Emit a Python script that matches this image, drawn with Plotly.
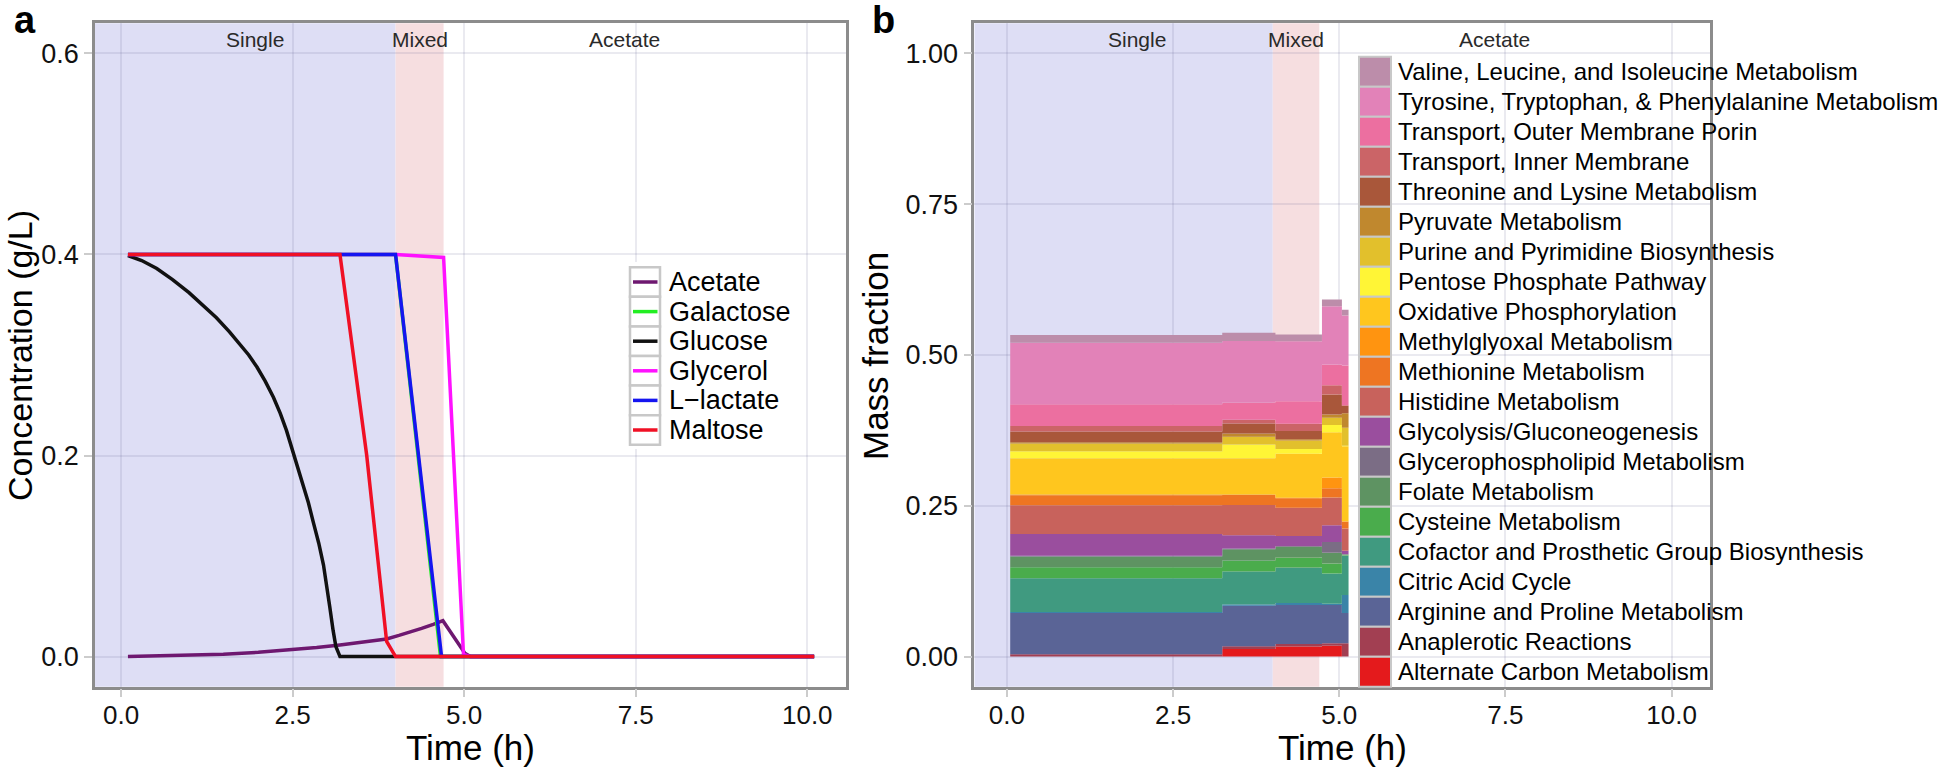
import plotly.graph_objects as go

W, H = 1946, 771
FONT = "Liberation Sans, Arial, Helvetica, sans-serif"

# ---------------- Panel a: substrate concentrations ----------------
conc_names = ["Acetate", "Galactose", "Glucose", "Glycerol", "L\u2212lactate", "Maltose"]
conc_colors = ["#6E1870", "#22EE22", "#111111", "#FF11FF", "#1515F0", "#F01025"]

acetate_t = [0.1, 0.8, 1.49, 2.0, 2.46, 2.85, 3.19, 3.55, 3.87, 4.05, 4.21, 4.38, 4.55, 4.69,
             5.01, 5.09, 10.1]
acetate_c = [0.0, 0.001, 0.0023, 0.0042, 0.0066, 0.009, 0.0116, 0.0145, 0.0175, 0.021, 0.024,
             0.028, 0.032, 0.0357, 0.0033, 0.0, 0.0]

galactose_t = [0.1, 4.0, 4.655, 10.1]
galactose_c = [0.4, 0.4, 0.0, 0.0]

glucose_t = [0.1, 0.3, 0.52, 0.75, 0.99, 1.2, 1.39, 1.58, 1.73, 1.86, 1.98, 2.1, 2.22, 2.32,
             2.41, 2.51, 2.59, 2.66, 2.73, 2.80, 2.88, 2.95, 3.0, 3.04, 3.09, 3.13, 3.19, 10.1]
glucose_c = [0.399, 0.394, 0.386, 0.375, 0.362, 0.349, 0.337, 0.323, 0.311, 0.300, 0.288, 0.274,
             0.258, 0.242, 0.225, 0.203, 0.186, 0.170, 0.153, 0.134, 0.113, 0.091, 0.071, 0.050,
             0.026, 0.010, 0.0, 0.0]

glycerol_t = [0.1, 4.0, 4.70, 4.99, 5.09, 10.1]
glycerol_c = [0.4, 0.4, 0.397, 0.002, 0.0, 0.0]

lactate_t = [0.1, 4.0, 4.67, 10.1]
lactate_c = [0.4, 0.4, 0.0, 0.0]

maltose_t = [0.1, 3.19, 3.58, 3.87, 4.0, 10.1]
maltose_c = [0.4, 0.4, 0.2, 0.015, 0.0, 0.0]

conc_t = [acetate_t, galactose_t, glucose_t, glycerol_t, lactate_t, maltose_t]
conc_c = [acetate_c, galactose_c, glucose_c, glycerol_c, lactate_c, maltose_c]

# growth phases
phase_edges = [4.0, 4.7]
phase_labels = ["Single", "Mixed", "Acetate"]
phase_label_x = [1.95, 4.35, 7.33]

# ---------------- Panel b: proteome mass fractions ----------------
pathways = [
    "Alternate Carbon Metabolism", "Anaplerotic Reactions", "Arginine and Proline Metabolism",
    "Citric Acid Cycle", "Cofactor and Prosthetic Group Biosynthesis", "Cysteine Metabolism",
    "Folate Metabolism", "Glycerophospholipid Metabolism", "Glycolysis/Gluconeogenesis",
    "Histidine Metabolism", "Methionine Metabolism", "Methylglyoxal Metabolism",
    "Oxidative Phosphorylation", "Pentose Phosphate Pathway", "Purine and Pyrimidine Biosynthesis",
    "Pyruvate Metabolism", "Threonine and Lysine Metabolism", "Transport, Inner Membrane",
    "Transport, Outer Membrane Porin", "Tyrosine, Tryptophan, & Phenylalanine Metabolism",
    "Valine, Leucine, and Isoleucine Metabolism",
]
pathway_colors = [
    "#E41A1C", "#A23F52", "#5A6496", "#3A84A8", "#409A80", "#4AAC4C", "#5E9362",
    "#7B6D85", "#9A4E9E", "#C8625C", "#EE7522", "#FF9410", "#FFC61E", "#FFF536",
    "#E2C02C", "#C0882E", "#A9573A", "#CB6467", "#EC6FA0", "#E282B8", "#BC8DAA",
]
seg_times = [0.05, 3.24, 4.04, 4.74, 5.04, 5.14]
frac_seg1 = [0.0, 0.004, 0.068, 0.002, 0.056, 0.018, 0.018, 0.001, 0.036, 0.048, 0.0166,
             0.001, 0.060, 0.012, 0.0127, 0.002, 0.018, 0.009, 0.036, 0.102, 0.0127]
frac_seg2 = [0.0127, 0.0044, 0.067, 0.002, 0.055, 0.018, 0.019, 0.001, 0.022, 0.050, 0.0166,
             0.001, 0.060, 0.0227, 0.013, 0.0055, 0.0166, 0.006, 0.0287, 0.102, 0.0138]
frac_seg3 = [0.0166, 0.0044, 0.0646, 0.003, 0.059, 0.0166, 0.018, 0.001, 0.0166, 0.047, 0.0155,
             0.001, 0.073, 0.008, 0.0138, 0.002, 0.0138, 0.012, 0.0376, 0.0995, 0.011]
frac_seg4 = [0.018, 0.004, 0.0635, 0.002, 0.050, 0.0166, 0.018, 0.018, 0.0276, 0.046, 0.0155,
             0.0177, 0.075, 0.012, 0.012, 0.0055, 0.033, 0.0155, 0.034, 0.097, 0.011]
frac_seg5 = [0.0, 0.022, 0.050, 0.030, 0.065, 0.001, 0.001, 0.001, 0.0055, 0.037, 0.011,
             0.001, 0.124, 0.001, 0.030, 0.024, 0.012, 0.001, 0.066, 0.083, 0.0094]
frac_segs = [frac_seg1, frac_seg2, frac_seg3, frac_seg4, frac_seg5]

xticks = [0, 2.5, 5, 7.5, 10]
xtick_text = ["0.0", "2.5", "5.0", "7.5", "10.0"]
ya_ticks = [0, 0.2, 0.4, 0.6]
ya_text = ["0.0", "0.2", "0.4", "0.6"]
yb_ticks = [0, 0.25, 0.5, 0.75, 1.0]
yb_text = ["0.00", "0.25", "0.50", "0.75", "1.00"]

XA_RANGE = [-0.38, 10.56]
XB_RANGE = [-0.49, 10.57]

# plot-area pixel frames
A_LEFT, A_RIGHT = 95.0, 845.7
B_LEFT, B_RIGHT = 974.3, 1709.5
P_TOP, P_BOT = 23.3, 686.7


def px(x):
    return x / W


def py(y):
    return 1 - y / H


fig = go.Figure()

for name, col, t, c in zip(conc_names, conc_colors, conc_t, conc_c):
    fig.add_trace(go.Scatter(x=t, y=c, mode="lines", name=name,
                             line=dict(color=col, width=3.5),
                             showlegend=False, xaxis="x", yaxis="y"))

for i, (name, col) in enumerate(zip(pathways, pathway_colors)):
    vals = [seg[i] for seg in frac_segs]
    vals = vals + [vals[-1]]
    fig.add_trace(go.Scatter(x=seg_times, y=vals, mode="lines", name=name,
                             stackgroup="b", line=dict(width=0, shape="hv", color=col),
                             fillcolor=col, showlegend=False, xaxis="x2", yaxis="y2"))

shapes = []
annotations = []
SINGLE_FILL = "#DEDEF5"
MIXED_FILL = "#F6DEE0"
for xr, yr, rng in [("x", "y domain", XA_RANGE), ("x2", "y2 domain", XB_RANGE)]:
    shapes.append(dict(type="rect", xref=xr, yref=yr, x0=rng[0], x1=phase_edges[0], y0=0, y1=1,
                       fillcolor=SINGLE_FILL, line=dict(width=0), layer="below"))
    shapes.append(dict(type="rect", xref=xr, yref=yr, x0=phase_edges[0], x1=phase_edges[1], y0=0, y1=1,
                       fillcolor=MIXED_FILL, line=dict(width=0), layer="below"))
    for lab, lx in zip(phase_labels, phase_label_x):
        annotations.append(dict(text=lab, x=lx, xref=xr, y=py(39.5), yref="paper",
                                showarrow=False, xanchor="center", yanchor="middle",
                                font=dict(family=FONT, size=21, color="#2a2a2a")))

# manual legend, panel a (white box hides gridlines)
shapes.append(dict(type="rect", xref="paper", yref="paper", x0=px(626), x1=px(800),
                   y0=py(449), y1=py(262), fillcolor="white", line=dict(width=0), layer="above"))
for i, (name, col) in enumerate(zip(conc_names, conc_colors)):
    cy = 282 + i * 29.6
    shapes.append(dict(type="rect", xref="paper", yref="paper", x0=px(630), x1=px(660),
                       y0=py(cy + 14.8), y1=py(cy - 14.8), fillcolor="white",
                       line=dict(color="#c8c8c8", width=2.5), layer="above"))
    shapes.append(dict(type="line", xref="paper", yref="paper", x0=px(633), x1=px(657.5),
                       y0=py(cy), y1=py(cy), line=dict(color=col, width=3.5), layer="above"))
    annotations.append(dict(text=name, x=px(667), y=py(cy), xref="paper", yref="paper",
                            showarrow=False, xanchor="left", yanchor="middle",
                            font=dict(family=FONT, size=27, color="black")))

# manual legend, panel b (top entry = last pathway)
for k, (name, col) in enumerate(zip(pathways[::-1], pathway_colors[::-1])):
    top = 56.7 + k * 30
    shapes.append(dict(type="rect", xref="paper", yref="paper", x0=px(1359), x1=px(1391),
                       y0=py(top + 30), y1=py(top), fillcolor=col,
                       line=dict(color="#c8c8c8", width=2), layer="above"))
    annotations.append(dict(text=name, x=px(1396), y=py(top + 15), xref="paper", yref="paper",
                            showarrow=False, xanchor="left", yanchor="middle",
                            font=dict(family=FONT, size=24, color="black")))

# panel letters & axis titles
annotations += [
    dict(text="<b>a</b>", x=px(12), y=py(20), xref="paper", yref="paper", showarrow=False,
         xanchor="left", yanchor="middle", font=dict(family=FONT, size=38, color="black")),
    dict(text="<b>b</b>", x=px(870), y=py(20), xref="paper", yref="paper", showarrow=False,
         xanchor="left", yanchor="middle", font=dict(family=FONT, size=38, color="black")),
    dict(text="Time (h)", x=px(470), y=py(747), xref="paper", yref="paper", showarrow=False,
         xanchor="center", yanchor="middle", font=dict(family=FONT, size=35, color="black")),
    dict(text="Time (h)", x=px(1342), y=py(747), xref="paper", yref="paper", showarrow=False,
         xanchor="center", yanchor="middle", font=dict(family=FONT, size=35, color="black")),
    dict(text="Concentration (g/L)", x=px(20), y=py(356), xref="paper", yref="paper",
         showarrow=False, textangle=-90, xanchor="center", yanchor="middle",
         font=dict(family=FONT, size=34, color="black")),
    dict(text="Mass fraction", x=px(875), y=py(356), xref="paper", yref="paper",
         showarrow=False, textangle=-90, xanchor="center", yanchor="middle",
         font=dict(family=FONT, size=35, color="black")),
]

ydom = [py(P_BOT), py(P_TOP)]
axis_common = dict(showgrid=True, gridcolor="rgba(90,90,140,0.13)", gridwidth=1.5, zeroline=False,
                   showline=True, mirror=True, linecolor="#8c8c8c", linewidth=2.5,
                   ticks="outside", ticklen=8, tickwidth=1.5, tickcolor="#cccccc")

fig.update_layout(
    width=W, height=H,
    margin=dict(l=0, r=0, t=0, b=0),
    paper_bgcolor="white", plot_bgcolor="white",
    showlegend=False,
    font=dict(family=FONT, color="#111111"),
    xaxis=dict(domain=[px(A_LEFT), px(A_RIGHT)], range=XA_RANGE, tickvals=xticks, ticktext=xtick_text,
               anchor="y", tickfont=dict(size=26, color="#111111"), ticklabelstandoff=-5, **axis_common),
    yaxis=dict(domain=ydom, range=[-0.03, 0.63], tickvals=ya_ticks, ticktext=ya_text,
               anchor="x", tickfont=dict(size=27, color="#111111"), **axis_common),
    xaxis2=dict(domain=[px(B_LEFT), px(B_RIGHT)], range=XB_RANGE, tickvals=xticks, ticktext=xtick_text,
                anchor="y2", tickfont=dict(size=26, color="#111111"), ticklabelstandoff=-5, **axis_common),
    yaxis2=dict(domain=ydom, range=[-0.05, 1.05], tickvals=yb_ticks, ticktext=yb_text,
                anchor="x2", tickfont=dict(size=27, color="#111111"), **axis_common),
    shapes=shapes,
    annotations=annotations,
)

fig.write_html("out.html", config={"displayModeBar": False},
               post_script="document.body.style.margin='0';")
